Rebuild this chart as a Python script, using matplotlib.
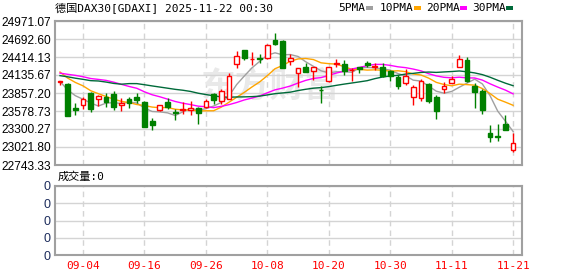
import matplotlib

matplotlib.use("Agg")
import matplotlib.pyplot as plt
import pandas as pd
from matplotlib.patches import Rectangle

# trading days shown (Sep 1 .. Nov 21, 2025)
dates = [
    "09-01", "09-02", "09-03", "09-04", "09-05", "09-08", "09-09", "09-10", "09-11", "09-12",
    "09-15", "09-16", "09-17", "09-18", "09-19", "09-22", "09-23", "09-24", "09-25", "09-26",
    "09-29", "09-30", "10-01", "10-02", "10-03", "10-06", "10-07", "10-08", "10-09", "10-10",
    "10-13", "10-14", "10-15", "10-16", "10-17", "10-20", "10-21", "10-22", "10-23", "10-24",
    "10-27", "10-28", "10-29", "10-30", "10-31", "11-03", "11-04", "11-05", "11-06", "11-07",
    "11-10", "11-11", "11-12", "11-13", "11-14", "11-17", "11-18", "11-19", "11-20", "11-21",
]
opens = [
    24024, 23993, 23618, 23664, 23859, 23772, 23792, 23844, 23669, 23767,
    23792, 23720, 23417, 23587, 23720, 23566, 23587, 23592, 23628, 23638,
    23844, 23736, 23762, 24302, 24528, 24379, 24394, 24395, 24678, 24662,
    24359, 24173, 24256, 24204, 23911, 24050, 24313, 24307, 24209, 24266,
    24328, 24256, 24266, 24204, 24112, 24009, 23803, 23777, 23998, 23792,
    23926, 24009, 24256, 24369, 23967, 23895, 23236, 23190, 23381, 22969,
]
highs = [
    24045, 24009, 23700, 23803, 23870, 23828, 23864, 23895, 23782, 23803,
    23864, 23741, 23473, 23679, 23782, 23607, 23720, 23741, 23638, 23762,
    23854, 23916, 24173, 24508, 24528, 24492, 24461, 24616, 24791, 24678,
    24456, 24240, 24318, 24266, 23967, 24256, 24379, 24369, 24240, 24266,
    24359, 24328, 24318, 24214, 24137, 24225, 23978, 24070, 24009, 23828,
    24029, 24122, 24446, 24410, 24009, 23916, 23365, 23381, 23520, 23236,
]
lows = [
    23978, 23494, 23510, 23612, 23560, 23659, 23638, 23597, 23576, 23623,
    23700, 23329, 23288, 23581, 23607, 23442, 23530, 23514, 23381, 23628,
    23690, 23690, 23762, 24250, 24369, 24286, 24318, 24379, 24600, 24250,
    24286, 23957, 24189, 24060, 23700, 24034, 24266, 24137, 24050, 24163,
    24266, 24214, 24112, 24050, 23921, 23983, 23674, 23741, 23710, 23458,
    23864, 24009, 24256, 24034, 23622, 23535, 23092, 23108, 23278, 22938,
]
closes = [
    24045, 23494, 23597, 23767, 23607, 23813, 23720, 23633, 23700, 23710,
    23751, 23329, 23365, 23669, 23638, 23545, 23612, 23628, 23545, 23741,
    23751, 23890, 24122, 24431, 24405, 24384, 24389, 24600, 24616, 24250,
    24405, 24240, 24189, 24266, 23900, 24256, 24318, 24199, 24214, 24235,
    24297, 24282, 24122, 24122, 23967, 24122, 23947, 24050, 23736, 23571,
    23967, 24081, 24379, 24050, 23880, 23597, 23175, 23180, 23278, 23082,
]
# closes before the visible window (Jul 22 .. Aug 29), needed for the moving averages
prior_closes = [
    24042, 24240, 24296, 24218, 23970, 24218, 24262, 24065, 23426, 23757,
    23846, 23924, 24193, 24163, 24082, 24025, 24186, 24377, 24359, 24315,
    24423, 24277, 24293, 24363, 24273, 24152, 24046, 24039, 23902,
]
ma_windows = [5, 10, 20, 30]
ma_names = ["5PMA", "10PMA", "20PMA", "30PMA"]
ma_colors = ["#a0a0a0", "#ffa500", "#ff00ff", "#006a3a"]
y_ticks = [24971.07, 24692.60, 24414.13, 24135.67, 23857.20, 23578.73, 23300.27, 23021.80, 22743.33]
label_every = 8
label_start = 3

RED = "#ff0000"
GREEN = "#008000"
GRID = "#d4d4d4"
FRAME = "#a0a0a0"
MONO = ["DejaVu Sans Mono", "Noto Sans CJK SC"]

fig = plt.figure(figsize=(5.78, 2.76), dpi=100)
W, H = 578, 276
ax = fig.add_axes([55 / W, (H - 165) / H, 467 / W, 144 / H])
axv = fig.add_axes([55 / W, (H - 255) / H, 467 / W, 69 / H])

n = len(closes)
xs = list(range(n))
tick_pos = xs[label_start::label_every]
tick_lab = dates[label_start::label_every]

# watermark, behind the lines
ax.text(270 / W, 1 - 86 / H, "东方财富", transform=fig.transFigure,
        family=["Noto Sans CJK SC"], fontsize=25, fontweight="bold", color="#e9e9e9",
        ha="center", va="center", zorder=1)

# moving averages
full = pd.Series(prior_closes + closes, dtype=float)
for w, c in zip(ma_windows, ma_colors):
    ma = full.rolling(w).mean().to_numpy()[-n:]
    ax.plot(xs, ma, color=c, lw=1.0, zorder=2)

# candles
bw = 0.62
for i in xs:
    o, h, l, c = opens[i], highs[i], lows[i], closes[i]
    up = c >= o
    col = RED if up else GREEN
    ax.vlines(i, l, h, color=col, lw=1.0, zorder=3)
    bot, top = min(o, c), max(o, c)
    ax.add_patch(Rectangle((i - bw / 2, bot), bw, max(top - bot, 1.0),
                           facecolor="white" if up else GREEN, edgecolor=col,
                           lw=1.0, zorder=4))

ax.set_xlim(-0.65, n + 0.16)
ax.set_ylim(y_ticks[-1], y_ticks[0])
ax.set_yticks(y_ticks)
ax.set_yticklabels([f"{v:.2f}" for v in y_ticks], family="Liberation Sans", fontsize=8.6)
ax.set_xticks(tick_pos)
ax.set_xticklabels([])
ax.tick_params(length=0, pad=3)
ax.grid(axis="y", color=GRID, lw=1.0, zorder=0)
for p in tick_pos:
    ax.axvline(p, color=GRID, lw=1.0, ls=(0, (4, 3)), zorder=0)
for s in ax.spines.values():
    s.set_color(FRAME)
    s.set_linewidth(1.5)

# volume panel (empty)
axv.set_xlim(ax.get_xlim())
axv.set_ylim(0, 4)
axv.set_yticks([0, 1, 2, 3, 4])
axv.set_yticklabels(["0"] * 5, family="Liberation Sans", fontsize=9, color="#1c2c5c")
axv.set_xticks(tick_pos)
axv.set_xticklabels(tick_lab, family="DejaVu Sans Mono", fontsize=8, color=RED)
axv.tick_params(length=0, pad=4)
axv.tick_params(axis="y", pad=3)
axv.grid(axis="y", color=GRID, lw=1.0)
for p in tick_pos:
    axv.axvline(p, color=GRID, lw=1.0, ls=(0, (4, 3)))
for s in axv.spines.values():
    s.set_color(FRAME)
    s.set_linewidth(1.5)

# header texts
fig.text(55 / W, 1 - 8 / H, "德国DAX30[GDAXI] 2025-11-22 00:30", family=MONO,
         fontsize=8, va="center", ha="left")
fig.text(58 / W, 1 - 177 / H, "成交量:0", family=MONO, fontsize=8, va="center", ha="left")

lx = [338, 380, 426, 472]
for x0, name, c in zip(lx, ma_names, ma_colors):
    fig.text(x0 / W, 1 - 8 / H, name, family=MONO, fontsize=8, va="center", ha="left")
    mx = x0 + len(name) * 6 + 4
    fig.patches.append(Rectangle((mx / W, 1 - 10 / H), 7 / W, 3.5 / H,
                                 transform=fig.transFigure, facecolor=c, edgecolor="none"))

fig.savefig("out.png", dpi=100)
